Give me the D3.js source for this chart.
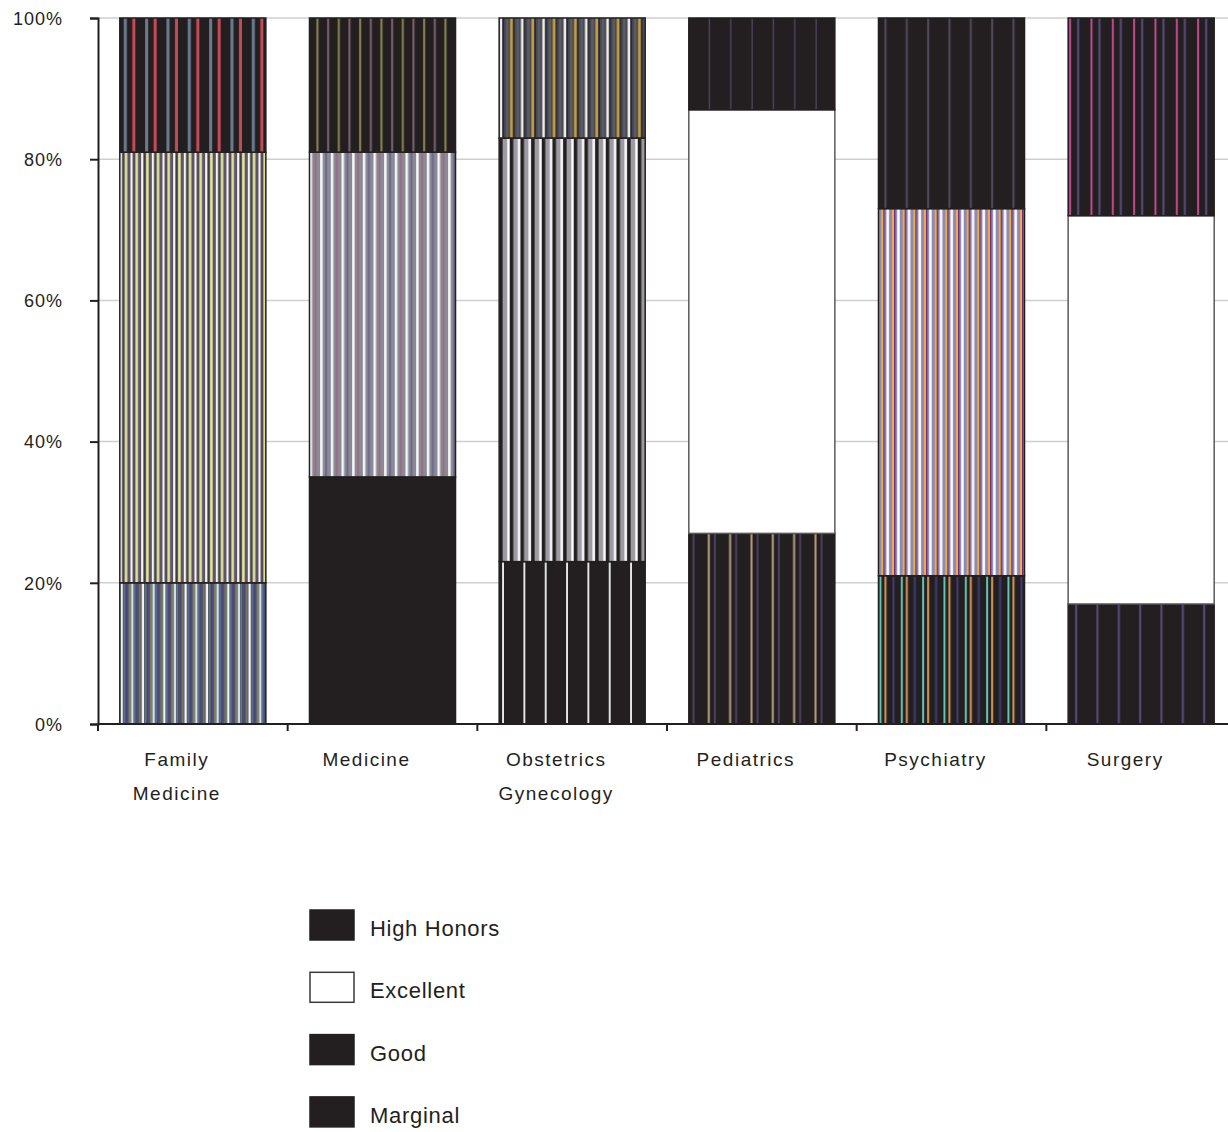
<!DOCTYPE html>
<html>
<head>
<meta charset="utf-8">
<script src="https://cdn.jsdelivr.net/npm/d3@7"></script>
<style>
  html, body { margin: 0; padding: 0; background: #fff; }
  svg { display: block; }
  text { font-family: "Liberation Sans", Arial, sans-serif; fill: #231f20; }
</style>
</head>
<body>
<svg id="chart" width="1228" height="1132"></svg>
<script>
// Clerkship grade distribution (percent of students per grade)
const categories = ["Family Medicine", "Medicine", "Obstetrics Gynecology", "Pediatrics", "Psychiatry", "Surgery"];
const categoryLines = [["Family", "Medicine"], ["Medicine"], ["Obstetrics", "Gynecology"], ["Pediatrics"], ["Psychiatry"], ["Surgery"]];
const marginal   = [0, 0, 0, 0, 0, 0];
const good       = [20, 35, 23, 27, 21, 17];
const excellent  = [61, 46, 60, 60, 52, 55];
const highHonors = [19, 19, 17, 13, 27, 28];
const yTicks = [0, 20, 40, 60, 80, 100];
const legendNames = ["High Honors", "Excellent", "Good", "Marginal"];

// stacking order, bottom to top
const seriesKeys = ["Marginal", "Good", "Excellent", "High Honors"];
const seriesValues = { "Marginal": marginal, "Good": good, "Excellent": excellent, "High Honors": highHonors };

// stripe fills: background plus [offset, width, colour] stripes inside one repeat
const INK = "#231f20";
const PERIOD = 64 / 3;
const fills = {
  "Marginal": Array(6).fill({ bg: INK, stripes: [] }),
  "Good": [
    { bg: "#33323a", stripes: [[0.5, 2.5, "#f2f5f7"], [3.5, 2, "#62788a"], [6, 2.5, "#4a4888"], [8.5, 2.5, "#7d7b5e"],
                               [11.2, 2.5, "#cfdfe8"], [14, 2, "#62788a"], [16.5, 2.5, "#4a4888"], [19, 2, "#7d7b5e"]] },
    { bg: INK, stripes: [] },
    { bg: INK, stripes: [[3, 1.8, "#f2f2f2"]] },
    { bg: INK, stripes: [[3.7, 2, "#4a4060"], [19, 2, "#b4a080"]] },
    { bg: INK, stripes: [[1, 2, "#62c4b0"], [6, 2, "#d4965a"], [14, 2, "#3e3c74"]] },
    { bg: INK, stripes: [[7, 2, "#5a4a82"]] }
  ],
  "Excellent": [
    { bg: "#5e5468", stripes: [[0, 2.5, "#f4f4ee"], [2.5, 1, "#2a2630"], [5, 2.5, "#e2e69a"],
                               [10.67, 2.5, "#f4f4ee"], [13.17, 1, "#2a2630"], [15.67, 2.5, "#e2e69a"]] },
    { bg: "#8a8a94", stripes: [[0, 2.5, "#f6f6f8"], [5, 2, "#9c6c84"], [10.67, 2.5, "#f6f6f8"], [15.67, 2, "#6c6890"]] },
    { bg: "#9e9aa4", stripes: [[0, 3.5, INK], [8, 2.5, "#f8f8f8"], [10.67, 3.5, INK], [18.67, 2.5, "#f8f8f8"]] },
    { bg: "#ffffff", stripes: [] },
    { bg: "#8c8ab6", stripes: [[3, 1.8, "#f2b632"], [4.8, 1.4, "#7a2a78"], [8, 2.5, "#ffffff"],
                               [13.7, 1.8, "#f2b632"], [15.5, 1.4, "#7a2a78"], [18.7, 2.5, "#ffffff"]] },
    { bg: "#ffffff", stripes: [] }
  ],
  "High Honors": [
    { bg: INK, stripes: [[4, 3, "#6c7c8e"], [12.5, 3, "#c44c58"]] },
    { bg: INK, stripes: [[7, 2, "#8a8650"], [17.67, 2, "#7a6272"]] },
    { bg: "#4a4a52", stripes: [[0.5, 2.5, "#eeeeee"], [3.5, 1.5, "#2a2a30"], [7, 2, "#5e5e68"],
                               [11, 2.5, "#c8a040"], [14, 1.5, "#2a2a30"], [17.5, 2, "#5e5e68"]] },
    { bg: INK, stripes: [[20, 2, "#4e4462"]] },
    { bg: INK, stripes: [[6, 2, "#524a5a"]] },
    { bg: INK, stripes: [[1, 2, "#c04a8e"], [9, 2, "#5a4a82"]] }
  ]
};

const svg = d3.select("#chart");
const plot = { left: 98, right: 1236, top: 18, bottom: 724 };

const x = d3.scaleBand()
  .domain(categories)
  .range([plot.left, plot.right])
  .paddingInner(0.23)
  .paddingOuter(0.115);
const y = d3.scaleLinear().domain([0, 100]).range([plot.bottom, plot.top]);

// gridlines
svg.append("g")
  .selectAll("line")
  .data(yTicks.filter(t => t > 0))
  .join("line")
  .attr("x1", plot.left).attr("x2", plot.right)
  .attr("y1", d => y(d)).attr("y2", d => y(d))
  .attr("stroke", "#cfcfd2").attr("stroke-width", 1.5);

// stacked data
const rows = categories.map((c, i) => {
  const r = { category: c, index: i };
  seriesKeys.forEach(k => { r[k] = seriesValues[k][i]; });
  return r;
});
const stacked = d3.stack().keys(seriesKeys)(rows);

// stripe patterns, aligned to each bar's left edge
const defs = svg.append("defs");
stacked.forEach((layer, si) => {
  layer.forEach((seg, ci) => {
    const f = fills[layer.key][ci];
    const p = defs.append("pattern")
      .attr("id", `fill-${si}-${ci}`)
      .attr("patternUnits", "userSpaceOnUse")
      .attr("x", x(categories[ci])).attr("y", 0)
      .attr("width", PERIOD).attr("height", 20);
    p.append("rect").attr("width", PERIOD).attr("height", 20).attr("fill", f.bg);
    p.selectAll("rect.s")
      .data(f.stripes)
      .join("rect")
      .attr("class", "s")
      .attr("x", d => d[0]).attr("y", 0)
      .attr("width", d => d[1]).attr("height", 20)
      .attr("fill", d => d[2]);
  });
});

// bars
stacked.forEach((layer, si) => {
  svg.append("g")
    .selectAll("rect")
    .data(layer.filter(d => d[1] - d[0] > 0))
    .join("rect")
    .attr("x", d => x(d.data.category))
    .attr("width", x.bandwidth())
    .attr("y", d => y(d[1]))
    .attr("height", d => y(d[0]) - y(d[1]))
    .attr("fill", d => `url(#fill-${si}-${d.data.index})`)
    .attr("stroke", d => fills[layer.key][d.data.index].bg === "#ffffff" ? "#5a5a5a" : INK)
    .attr("stroke-width", 1.5);
});

// y axis
const yAxis = svg.append("g").attr("transform", `translate(${plot.left},0)`)
  .call(d3.axisLeft(y).tickValues(yTicks).tickSize(8).tickFormat(d => d + "%"));
yAxis.select(".domain").attr("stroke", INK).attr("stroke-width", 2);
yAxis.selectAll(".tick line").attr("stroke", INK).attr("stroke-width", 2);
yAxis.selectAll(".tick text")
  .attr("x", -35).attr("dy", "0.35em")
  .style("font-size", "18px").style("letter-spacing", "1px")
  .attr("fill", INK);

// x axis line and tick marks between categories
svg.append("line")
  .attr("x1", plot.left).attr("x2", plot.right)
  .attr("y1", plot.bottom).attr("y2", plot.bottom)
  .attr("stroke", INK).attr("stroke-width", 2);
svg.append("g")
  .selectAll("line")
  .data(d3.range(categories.length + 1))
  .join("line")
  .attr("x1", i => plot.left + i * x.step()).attr("x2", i => plot.left + i * x.step())
  .attr("y1", plot.bottom).attr("y2", plot.bottom + 7)
  .attr("stroke", INK).attr("stroke-width", 2);

// category labels
const labels = svg.append("g")
  .selectAll("text")
  .data(categories)
  .join("text")
  .attr("text-anchor", "middle")
  .style("font-size", "19px").style("letter-spacing", "1.5px");
labels.each(function (c, i) {
  const cx = x(c) + x.bandwidth() / 2 - 16;
  d3.select(this).selectAll("tspan")
    .data(categoryLines[i])
    .join("tspan")
    .attr("x", cx)
    .attr("y", (d, j) => 766 + j * 34)
    .text(d => d);
});

// legend
const legend = svg.append("g")
  .selectAll("g")
  .data(legendNames)
  .join("g")
  .attr("transform", (d, i) => `translate(310, ${910 + i * 62.3})`);
legend.append("rect")
  .attr("width", 44).attr("height", 30)
  .attr("fill", d => d === "Excellent" ? "#ffffff" : INK)
  .attr("stroke", d => d === "Excellent" ? "#3a3a3a" : INK)
  .attr("stroke-width", 1.5);
legend.append("text")
  .attr("x", 60).attr("y", 26)
  .style("font-size", "22px").style("letter-spacing", "0.7px")
  .text(d => d);
</script>
</body>
</html>
